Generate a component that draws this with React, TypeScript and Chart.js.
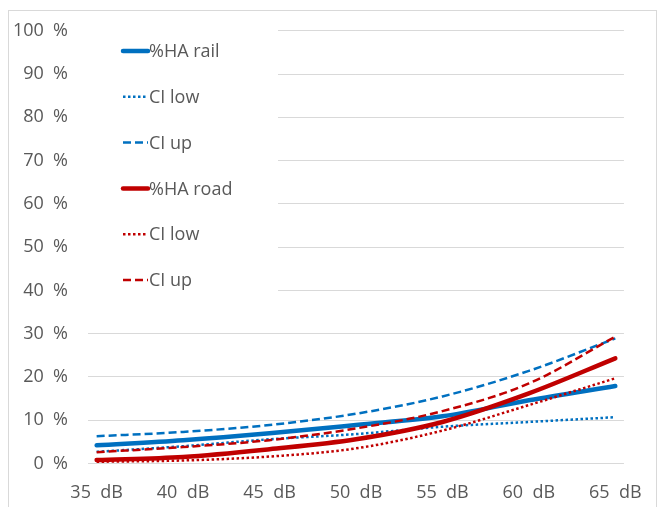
import React, { useEffect, useRef } from "react";
import { Chart, registerables } from "chart.js";

Chart.register(...registerables);

const dbValues = [35, 40, 45, 50, 55, 60, 65];
const xTickValues = [35, 40, 45, 50, 55, 60, 65];
const yTickValues = [0, 10, 20, 30, 40, 50, 60, 70, 80, 90, 100];

const railHA = [4.2, 5.4, 7.0, 8.9, 10.9, 14.6, 17.9];
const railCILow = [2.7, 4.0, 5.6, 6.8, 8.5, 9.6, 10.7];
const railCIUp = [6.3, 7.3, 8.9, 11.5, 15.5, 21.4, 28.9];
const roadHA = [0.8, 1.5, 3.3, 5.6, 9.6, 16.2, 24.3];
const roadCILow = [0.4, 0.7, 1.6, 3.5, 7.6, 13.5, 19.7];
const roadCIUp = [2.6, 3.8, 5.4, 8.1, 12.1, 18.5, 29.3];

const seriesLabels = ["%HA rail", "CI low", "CI up", "%HA road", "CI low", "CI up"];

const BLUE = "#0070C0";
const RED = "#C00000";
const TEXT = "#595959";
const GRID = "#D9D9D9";
const FONT = "'Open Sans', sans-serif";

const toPoints = (vals: number[]) => vals.map((v, i) => ({ x: dbValues[i], y: v }));

const legendPlugin = {
  id: "insideLegend",
  beforeDatasetsDraw(chart: any) {
    const ctx = chart.ctx;
    const area = chart.chartArea;
    ctx.save();
    ctx.fillStyle = "#ffffff";
    ctx.fillRect(area.left - 1, area.top - 5, 278 - area.left + 1, 305 - area.top + 5);
    const startY = 51;
    const step = 45.8;
    chart.data.datasets.forEach((ds: any, i: number) => {
      const y = startY + i * step;
      ctx.beginPath();
      ctx.strokeStyle = ds.borderColor;
      ctx.lineWidth = ds.borderWidth;
      ctx.lineCap = ds.borderDash && ds.borderDash.length ? "butt" : "round";
      ctx.setLineDash(ds.borderDash || []);
      ctx.moveTo(123, y);
      ctx.lineTo(148, y);
      ctx.stroke();
      ctx.setLineDash([]);
      ctx.fillStyle = TEXT;
      ctx.font = `18px ${FONT}`;
      ctx.textAlign = "left";
      ctx.textBaseline = "middle";
      ctx.fillText(ds.label, 149, y + 1);
    });
    ctx.restore();
  },
};

const borderPlugin = {
  id: "outerBorder",
  afterDraw(chart: any) {
    const ctx = chart.ctx;
    ctx.save();
    ctx.strokeStyle = GRID;
    ctx.lineWidth = 1;
    ctx.strokeRect(8.5, 10.5, 648, 500);
    ctx.restore();
  },
};

export default function App() {
  const canvasRef = useRef<HTMLCanvasElement | null>(null);

  useEffect(() => {
    if (!canvasRef.current) return;
    const mk = (label: string, vals: number[], color: string, width: number, dash: number[], idx: number) => ({
      label,
      data: toPoints(vals),
      borderColor: color,
      backgroundColor: color,
      borderWidth: width,
      borderDash: dash,
      borderCapStyle: dash.length ? "butt" : "round",
      pointRadius: 0,
      fill: false,
      cubicInterpolationMode: "monotone",
      order: -idx,
    });
    const chart = new Chart(canvasRef.current, {
      type: "line",
      data: {
        datasets: [
          mk(seriesLabels[0], railHA, BLUE, 4.5, [], 0),
          mk(seriesLabels[1], railCILow, BLUE, 2.5, [2.5, 2.5], 1),
          mk(seriesLabels[2], railCIUp, BLUE, 2.5, [8, 4], 2),
          mk(seriesLabels[3], roadHA, RED, 4.5, [], 3),
          mk(seriesLabels[4], roadCILow, RED, 2.5, [2.5, 2.5], 4),
          mk(seriesLabels[5], roadCIUp, RED, 2.5, [8, 4], 5),
        ] as any,
      },
      options: {
        responsive: false,
        animation: false,
        layout: { padding: { left: 0, top: 30, right: 25, bottom: 0 } },
        plugins: {
          legend: { display: false },
          tooltip: { enabled: false },
        },
        scales: {
          x: {
            type: "linear",
            min: 34.5,
            max: 65.5,
            afterBuildTicks: (s: any) => {
              s.ticks = xTickValues.map((v) => ({ value: v }));
            },
            afterFit: (s: any) => {
              s.height = 43.5;
            },
            grid: { display: false, drawTicks: false },
            border: { display: false },
            ticks: {
              padding: 19,
              color: TEXT,
              font: { family: FONT, size: 18 },
              maxRotation: 0,
              autoSkip: false,
              callback: (v: any) => `${v}  dB`,
            },
          },
          y: {
            type: "linear",
            min: 0,
            max: 100,
            afterBuildTicks: (s: any) => {
              s.ticks = yTickValues.map((v) => ({ value: v }));
            },
            afterFit: (s: any) => {
              s.width = 88;
            },
            grid: { color: GRID, lineWidth: 1, drawTicks: false },
            border: { display: false },
            ticks: {
              padding: 20,
              color: TEXT,
              font: { family: FONT, size: 18 },
              callback: (v: any) => `${v}  %`,
            },
          },
        },
      },
      plugins: [legendPlugin, borderPlugin],
    });
    return () => chart.destroy();
  }, []);

  return (
    <div style={{ position: "fixed", left: 0, top: 0, width: 661, height: 507, background: "#fff" }}>
      <canvas ref={canvasRef} width={661} height={507} style={{ width: 661, height: 507, display: "block" }} />
    </div>
  );
}
